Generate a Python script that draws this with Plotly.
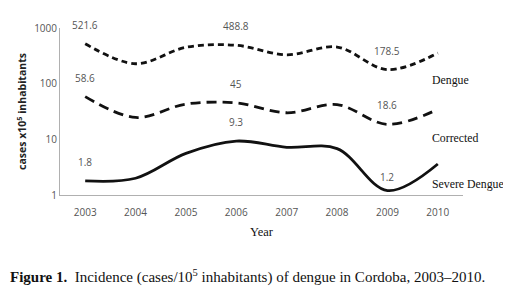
import math
import plotly.graph_objects as go

years = ["2003", "2004", "2005", "2006", "2007", "2008", "2009", "2010"]
dengue = [521.6, 228, 450, 488.8, 330, 455, 178.5, 355]
corrected = [58.6, 24.7, 43, 45, 30, 42, 18.6, 34.6]
severe = [1.8, 2.0, 5.6, 9.3, 7.2, 6.8, 1.2, 3.6]
label_idx = [0, 3, 6]
series_names = ["Dengue", "Corrected", "Severe Dengue"]
y_ticks = [1, 10, 100, 1000]

# page body has an 8px margin, so the figure is offset by 8px in the window
OFF = 8
W, H = 511 - OFF, 292 - OFF
ML, MR, MT, MB = 60 - OFF, 48, 28 - OFF, 97
plot_w = W - ML - MR
plot_h = H - MT - MB


def px_x(px):
    return (px - OFF - ML) / plot_w


def px_y(py):
    return 1 - (py - OFF - MT) / plot_h


fig = go.Figure()
series = [dengue, corrected, severe]
dashes = ["6px,4px", "10px,6px", "solid"]
for vals, d, name in zip(series, dashes, series_names):
    fig.add_trace(go.Scatter(x=years, y=vals, mode="lines", name=name,
                             line=dict(color="#111111", width=2.8, dash=d, shape="spline", smoothing=1.0),
                             showlegend=False))
    for i in label_idx:
        v = vals[i]
        fig.add_annotation(x=i, y=math.log10(v), xref="x", yref="y", text="%g" % v, showarrow=False,
                           yshift=14 if (name == "Severe Dengue" and i == 6) else 19,
                           font=dict(family="Open Sans", size=10, color="#555555"))

label_pos = [(80, "Dengue"), (138, "Corrected"), (184, "Severe Dengue")]
for ypix, txt in label_pos:
    fig.add_annotation(x=px_x(430), y=px_y(ypix), xref="paper", yref="paper", text=txt, showarrow=False,
                       xanchor="left", yanchor="middle",
                       font=dict(family="Liberation Serif", size=11.8, color="#111111"))

fig.add_annotation(x=px_x(OFF), y=px_y(276), xref="paper", yref="paper",
                   xanchor="left", yanchor="middle", showarrow=False,
                   text="<b>Figure 1.</b>  Incidence (cases/10<sup>5</sup> inhabitants) of dengue in Cordoba, 2003–2010.",
                   font=dict(family="Liberation Serif", size=15, color="#111111"))

fig.update_layout(
    width=W, height=H,
    margin=dict(l=ML, r=MR, t=MT, b=MB),
    paper_bgcolor="white", plot_bgcolor="white",
    xaxis=dict(type="category", range=[-0.5, len(years) - 0.5], showgrid=False, showline=True,
               linecolor="#b0b0b0", linewidth=1, automargin=False,
               ticks="", ticklabelstandoff=8, tickfont=dict(family="Open Sans", size=10, color="#555555"),
               title=dict(text="Year", font=dict(family="Liberation Serif", size=12.5, color="#111111"), standoff=9)),
    yaxis=dict(type="log", range=[0, 3], showgrid=False, showline=True, linecolor="#b0b0b0", linewidth=1,
               automargin=False,
               tickvals=y_ticks, ticktext=[str(t) for t in y_ticks], ticks="",
               tickfont=dict(family="Open Sans", size=10, color="#555555"),
               title=dict(text="<b>cases x10<sup>5</sup> inhabitants</b>",
                          font=dict(family="Open Sans", size=10.5, color="#222222"), standoff=5),
               zeroline=False),
)

fig.write_html("out.html")
